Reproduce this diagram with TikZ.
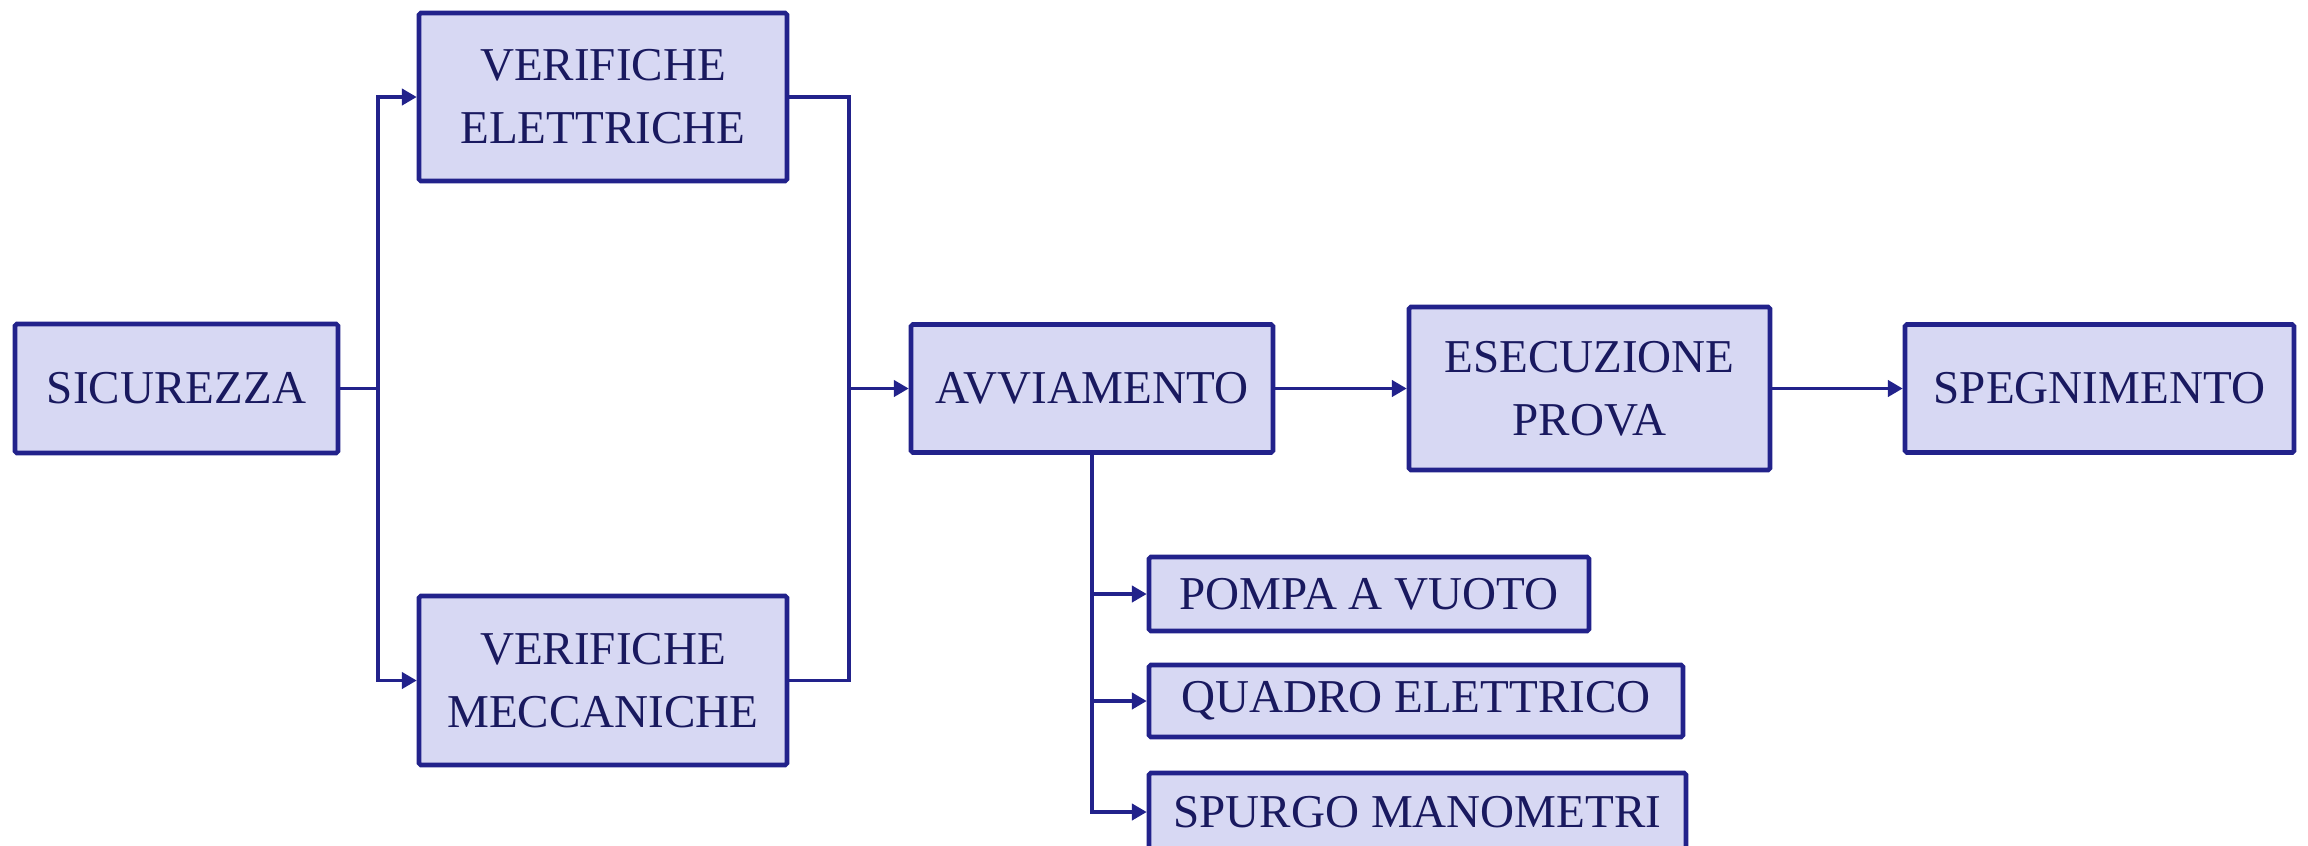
\documentclass[tikz,border=0pt]{standalone}
\usepackage{fontspec}
\setmainfont{Liberation Serif}
\usetikzlibrary{arrows.meta}

\definecolor{boxline}{RGB}{34,34,139}
\definecolor{boxfill}{RGB}{215,216,243}
\definecolor{boxtext}{RGB}{25,25,95}

\begin{document}
\begin{tikzpicture}[
        fase/.style={draw=boxline, fill=boxfill, text=boxtext, line width=1.3pt,
            rounded corners=0.5pt, align=center, inner sep=0pt,
            font=\fontsize{13.4}{17.9}\selectfont},
        link/.style={draw=boxline, line width=0.95pt},
        linkarr/.style={link, -{Triangle[length=4.2pt, width=4.6pt]}}
    ]
        \useasboundingbox (0,0) rectangle (23.08,-8.45);
        \node[fase, minimum width=3.23cm, minimum height=1.29cm] (sic)    at (1.765, -3.885) {SICUREZZA};
        \node[fase, minimum width=3.68cm, minimum height=1.68cm] (elett)  at (6.03, -0.97)   {VERIFICHE\\ELETTRICHE};
        \node[fase, minimum width=3.68cm, minimum height=1.69cm] (mecc)   at (6.03, -6.805)  {VERIFICHE\\MECCANICHE};
        \node[fase, minimum width=3.62cm, minimum height=1.28cm] (avv)    at (10.92, -3.885) {AVVIAMENTO};
        \node[fase, minimum width=3.61cm, minimum height=1.63cm] (prova)  at (15.895, -3.885) {ESECUZIONE\\PROVA};
        \node[fase, minimum width=3.89cm, minimum height=1.28cm] (spegn)  at (20.995, -3.885) {SPEGNIMENTO};
        \node[fase, minimum width=4.40cm, minimum height=0.74cm] (pompa)  at (13.69, -5.94)  {POMPA A VUOTO};
        \node[fase, minimum width=5.34cm, minimum height=0.72cm] (quadro) at (14.16, -7.01)  {QUADRO ELETTRICO};
        \node[fase, minimum width=5.37cm, minimum height=0.78cm] (spurgo) at (14.175, -8.12) {SPURGO MANOMETRI};
        \coordinate (split) at (3.78, -3.885);
        \coordinate (merge) at (8.49, -3.885);
        \draw[link] (sic.east) -- (split);
        \draw[linkarr] (split) |- (elett.west);
        \draw[linkarr] (split) |- (mecc.west);
        \draw[link] (elett.east) -| (merge);
        \draw[link] (mecc.east) -| (merge);
        \draw[linkarr] (merge) -- (avv.west);
        \draw[linkarr] (avv.east) -- (prova.west);
        \draw[linkarr] (prova.east) -- (spegn.west);
        \draw[linkarr] (avv.south) |- (pompa.west);
        \draw[linkarr] (avv.south) |- (quadro.west);
        \draw[linkarr] (avv.south) |- (spurgo.west);
    \end{tikzpicture}
\end{document}
